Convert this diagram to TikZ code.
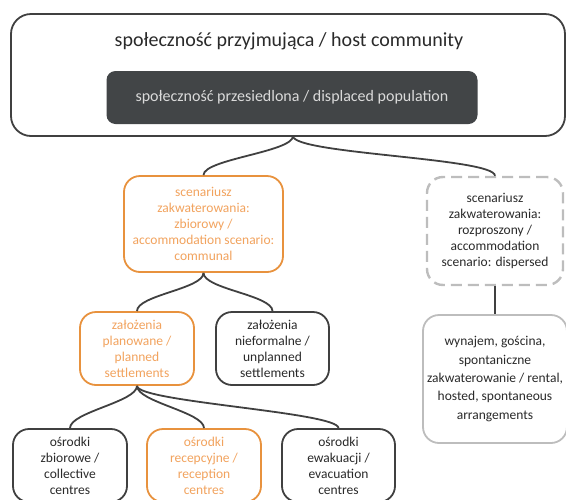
\documentclass[tikz,border=0pt]{standalone}
\usepackage{fontspec}
\setmainfont{Carlito}
\usepackage{xcolor}
\usetikzlibrary{positioning}

\definecolor{darkline}{HTML}{404040}
\definecolor{darktext}{HTML}{2A2A2A}
\definecolor{darkfill}{HTML}{424547}
\definecolor{paletext}{HTML}{DADADA}
\definecolor{orangeline}{HTML}{E8923E}
\definecolor{orangetext}{HTML}{F2A35E}
\definecolor{lightline}{HTML}{BDBDBD}

\begin{document}
\begin{tikzpicture}[x=1pt, y=-1pt,
    box/.style={draw=darkline, line width=1.8pt, rounded corners=16pt, fill=white,
        align=center, inner sep=0pt, text=darktext,
        font=\fontsize{13.5}{16}\selectfont},
    orangebox/.style={box, draw=orangeline, text=orangetext},
    dashbox/.style={box, draw=lightline, line width=2.4pt, dash pattern=on 11pt off 6pt},
    greybox/.style={box, draw=lightline, font=\fontsize{13.5}{18.3}\selectfont},
    link/.style={draw=darkline, line width=1.8pt}]

        \useasboundingbox (0,0) rectangle (566,499);

        \node[box, rounded corners=20pt, minimum width=554, minimum height=122] (host) at (288,75) {};
        \node[text=darktext, font=\fontsize{20}{24}\selectfont] (hosttitle) at (289,41)
            {społeczność przyjmująca / host community};
        \node[box, draw=none, fill=darkfill, rounded corners=9pt, text=paletext,
            font=\fontsize{16}{19}\selectfont, minimum width=371, minimum height=53] (displaced) at (292,97.5)
            {społeczność przesiedlona / displaced population};

        \node[orangebox, minimum width=159, minimum height=96] (communal) at (203.5,224)
            {scenariusz\\zakwaterowania:\\zbiorowy /\\accommodation scenario:\\communal};
        \node[dashbox, minimum width=136, minimum height=108] (dispersed) at (495,231)
            {scenariusz\\zakwaterowania:\\rozproszony /\\accommodation\\scenario: dispersed};
        \node[greybox, minimum width=144, minimum height=128] (rental) at (495,379)
            {wynajem, gościna,\\spontaniczne\\zakwaterowanie / rental,\\hosted, spontaneous\\arrangements};

        \node[orangebox, minimum width=114, minimum height=73] (planned) at (137,348.5)
            {założenia\\planowane /\\planned\\settlements};
        \node[box, minimum width=113, minimum height=73] (unplanned) at (272.5,348.5)
            {założenia\\nieformalne /\\unplanned\\settlements};

        \node[box, minimum width=114, minimum height=73] (collective) at (70,465.5)
            {ośrodki\\zbiorowe /\\collective\\centres};
        \node[orangebox, minimum width=114, minimum height=73] (reception) at (204,465.5)
            {ośrodki\\recepcyjne /\\reception\\centres};
        \node[box, minimum width=113, minimum height=73] (evacuation) at (338.5,465.5)
            {ośrodki\\ewakuacji /\\evacuation\\centres};

        \coordinate (hostfoot) at (293,136);

        \draw[link] (hostfoot) .. controls +(0,16) and +(0,-16) .. (communal.north);
        \draw[link] (hostfoot) .. controls +(0,18) and +(0,-18) .. (dispersed.north);
        \draw[link] (dispersed.south) -- (rental.north);

        \foreach \child in {planned, unplanned}
        \draw[link] (communal.south) .. controls +(0,16) and +(0,-16) .. (\child.north);

        \foreach \child in {collective, reception, evacuation}
        \draw[link] (planned.south) .. controls +(0,16) and +(0,-16) .. (\child.north);

\end{tikzpicture}
\end{document}
